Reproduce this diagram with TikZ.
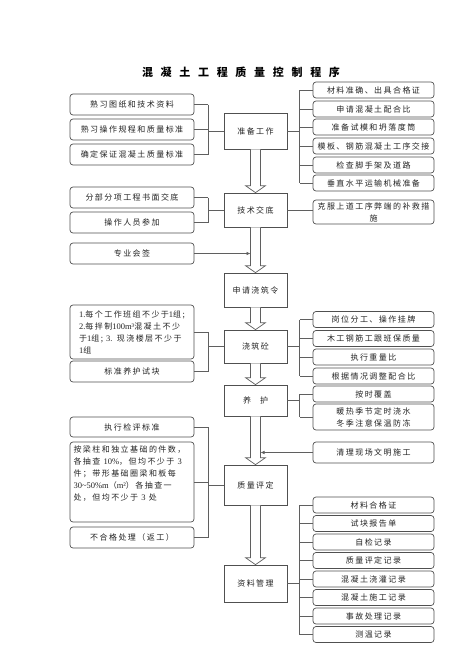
\documentclass[tikz,border=0pt]{standalone}
\usepackage{fontspec}
\usepackage{tikz}
\usetikzlibrary{arrows.meta, positioning, calc}
\newfontfamily\cjk[LetterSpace=18]{Noto Sans CJK SC}
\newfontfamily\cjktitle[LetterSpace=70]{Noto Sans CJK SC}
\newfontfamily\latin{Liberation Serif}
\definecolor{boxgray}{RGB}{80,80,80}
\definecolor{linkgray}{RGB}{95,95,95}
\definecolor{inkgray}{RGB}{35,35,35}

% hollow block arrow from the bottom of one stage to the top of the next
\newcommand{\hollowarrow}[2]{%
  \draw[hollow] ($(#1.south)+(-5,0)$) -- ($(#2.north)+(-5,-7)$) -- ++(-5,0)
    -- (#2.north) -- ($(#2.north)+(10,-7)$) -- ++(-5,0) -- ($(#1.south)+(5,0)$);}
% numbers inside the Chinese notes
\newcommand{\num}[1]{{\latin\fontsize{8.5}{12}\selectfont #1}}

\begin{document}
\begin{tikzpicture}[x=1pt, y=-1pt,
  every node/.style={text=inkgray, font={\cjk\fontsize{8}{12}\selectfont}},
  sidebox/.style={draw=boxgray, line width=0.7pt, rounded corners=3pt,
    minimum width=121pt, minimum height=16pt, inner sep=1pt},
  leftbox/.style={sidebox, minimum width=124pt, minimum height=21pt},
  stagebox/.style={draw=boxgray, line width=0.7pt, minimum width=63pt, inner sep=1pt},
  link/.style={draw=linkgray, line width=0.7pt},
  hollow/.style={draw=linkgray, line width=0.7pt, fill=white}]
  \useasboundingbox (0,0) rectangle (474,669);

  % Title
  \node[text=black, font={\cjktitle\bfseries\fontsize{11}{13}\selectfont}] (title) at (241,72) {混凝土工程质量控制程序};

  % Main stages
  \node[stagebox, minimum height=36pt] (prep) at (255.5,131) {准备工作};
  \node[stagebox, minimum height=34pt] (tech) at (255.5,210) {技术交底};
  \node[stagebox, minimum height=34pt] (apply) at (255.5,290) {申请浇筑令};
  \node[stagebox, minimum height=33pt] (pour) at (255.5,346.5) {浇筑砼};
  \node[stagebox, minimum height=31pt] (cure) at (255.5,400.5) {养\hspace{9pt}护};
  \node[stagebox, minimum height=40pt] (eval) at (255.5,485) {质量评定};
  \node[stagebox, minimum height=37pt] (data) at (255.5,583.5) {资料管理};

  % Left column
  \node[leftbox] (l1) at (132,104.5) {熟习图纸和技术资料};
  \node[leftbox] (l2) at (132,129.5) {熟习操作规程和质量标准};
  \node[leftbox] (l3) at (132,154.5) {确定保证混凝土质量标准};
  \node[leftbox] (l4) at (132,197.5) {分部分项工程书面交底};
  \node[leftbox] (l5) at (132,222.5) {操作人员参加};
  \node[leftbox] (l6) at (132,253.5) {专业会签};
  \node[leftbox, minimum height=54pt, align=left] (l7) at (132,332)
    {\num{1.}每个工作班组不少于\num{1}组;\\\num{2.}每拌制\num{100m³}混凝土不少\\于\num{1}组; \num{3.} 现浇楼层不少于\\\num{1}组};
  \node[leftbox] (l8) at (132,371.5) {标准养护试块};
  \node[leftbox, minimum height=20pt] (l9) at (132,427) {执行检评标准};
  \node[leftbox, minimum height=80pt] (l10) at (132,482)
    {\begin{minipage}[c][74pt][t]{117pt}\vspace*{1pt}%
     按梁柱和独立基础的件数，\\各抽查 \num{10\%}，但均不少于 \num{3}\\件；带形基础圈梁和板每\\\num{30\textasciitilde50\%m}（\num{m²}）各抽查一\\处，但均不少于 \num{3} 处\end{minipage}};
  \node[leftbox] (l11) at (132,537.5) {不合格处理（返工）};

  % Right column
  \foreach \n/\y/\t in {r1/90/材料准确、出具合格证, r2/109/申请混凝土配合比,
      r3/127/准备试模和坍落度筒, r4/146/模板、钢筋混凝土工序交接,
      r5/165/检查脚手架及道路, r6/183/垂直水平运输机械准备,
      r8/319.5/岗位分工、操作挂牌, r9/338.5/木工钢筋工跟班保质量,
      r10/357/执行重量比, r11/376/根据情况调整配合比, r12/394/按时覆盖,
      r15/505/材料合格证, r16/523.5/试块报告单, r17/542/自检记录,
      r18/560.5/质量评定记录, r19/579/混凝土浇灌记录, r20/597.5/混凝土施工记录,
      r21/616/事故处理记录, r22/634.5/测温记录}
    \node[sidebox] (\n) at (373.5,\y) {\t};
  \node[sidebox, minimum height=24pt, align=center] (r7) at (373.5,212) {克服上道工序弊端的补救措\\施};
  \node[sidebox, minimum height=26pt, align=center] (r13) at (373.5,417) {暖热季节定时浇水\\冬季注意保温防冻};
  \node[sidebox, minimum height=21pt] (r14) at (373.5,452.5) {清理现场文明施工};

  % Block arrows between stages
  \hollowarrow{prep}{tech}
  \hollowarrow{tech}{apply}
  \hollowarrow{apply}{pour}
  \hollowarrow{pour}{cure}
  \hollowarrow{cure}{eval}
  \hollowarrow{eval}{data}

  % Brackets on the left
  \foreach \a/\b/\s in {1/3/prep, 4/5/tech, 7/8/pour, 9/11/eval} {
    \foreach \i in {\a,...,\b}
      \draw[link] (l\i.east) -- ++(14,0);
    \draw[link] ($(l\a.east)+(14,0)$) -- ($(l\b.east)+(14,0)$);
    \draw[link] (\s.west) -- ++(-16,0);
  }
  % Brackets on the right
  \foreach \a/\b/\s in {1/6/prep, 8/11/pour, 12/13/cure, 15/22/data} {
    \foreach \i in {\a,...,\b}
      \draw[link] (r\i.west) -- ++(-13,0);
    \draw[link] ($(r\a.west)+(-13,0)$) -- ($(r\b.west)+(-13,0)$);
    \draw[link] (\s.east) -- ++(13,0);
  }
  \draw[link] (tech.east) -- (tech.east -| r7.west);

  % Side inputs onto the arrow shafts
  \coordinate (shaftL) at ($(tech.south)+(-5,0)$);
  \coordinate (shaftR) at ($(cure.south)+(5,0)$);
  \draw[link, -{Latex[length=4pt,width=3.5pt]}] (l6.east) -- (l6.east -| shaftL);
  \draw[link, -{Latex[length=4pt,width=3.5pt]}] (r14.west) -- (r14.west -| shaftR);
\end{tikzpicture}
\end{document}
